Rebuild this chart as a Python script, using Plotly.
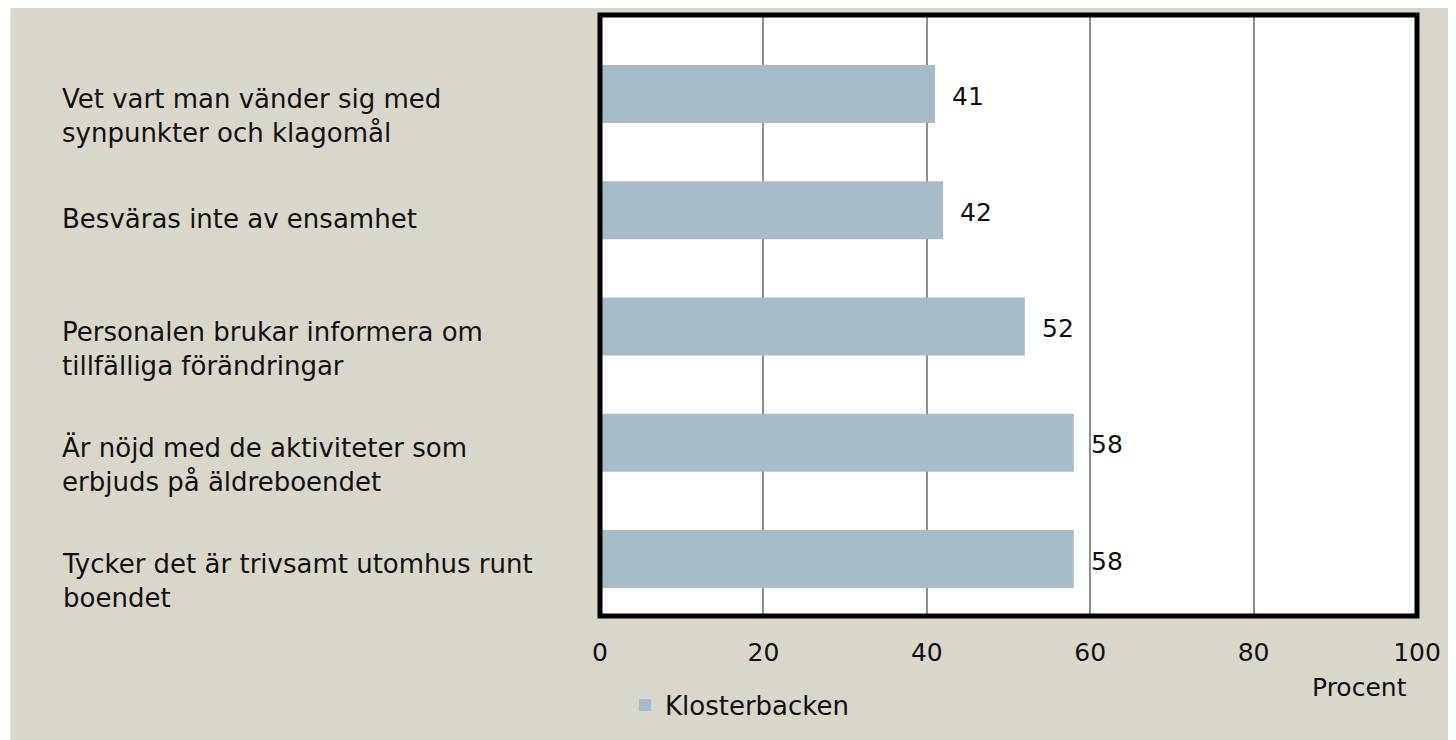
import plotly.graph_objects as go

# ---- data ----
categories = [
    "Vet vart man vänder sig med<br>synpunkter och klagomål",
    "Besväras inte av ensamhet",
    "Personalen brukar informera om<br>tillfälliga förändringar",
    "Är nöjd med de aktiviteter som<br>erbjuds på äldreboendet",
    "Tycker det är trivsamt utomhus runt<br>boendet",
]
values = [41, 42, 52, 58, 58]
series_name = "Klosterbacken"
x_ticks = [0, 20, 40, 60, 80, 100]
x_title = "Procent"

# ---- style ----
BEIGE = "#D9D7CB"
BAR = "#A7BCC6"
FONT = "DejaVu Sans"
TXT = "#111111"
OFF = 8  # page offset of the figure in the browser
W, H = 1456, 740
# plot area in screen pixels: x 600..1417.5, y 15..616
ML = 600 - OFF
MT = 15 - OFF
MR = W - (1417.5 - OFF)
MB = H - (616 - OFF)
PW = W - ML - MR
PH = H - MT - MB


def px_to_paper_x(px):
    return (px - OFF - ML) / PW


def px_to_paper_y(py):
    return (H - MB - (py - OFF)) / PH


fig = go.Figure()
fig.add_trace(go.Bar(
    x=values, y=categories, orientation="h", name=series_name,
    marker=dict(color=BAR, line=dict(width=0)),
    hoverinfo="x+y", showlegend=True,
))

annotations = []
for cat, v in zip(categories, values):
    annotations.append(dict(
        x=v, y=cat, xref="x", yref="y", text=str(v), showarrow=False,
        xanchor="left", yanchor="middle", xshift=15, yshift=-2,
        font=dict(family=FONT, size=25, color=TXT),
    ))
    nlines = cat.count("<br>") + 1
    annotations.append(dict(
        x=px_to_paper_x(60), y=cat, xref="paper", yref="y", text=cat,
        showarrow=False, xanchor="left", yanchor="middle", align="left",
        yshift=-9 if nlines == 1 else -22,
        font=dict(family=FONT, size=26, color=TXT),
    ))
annotations.append(dict(
    x=px_to_paper_x(1409), y=px_to_paper_y(688), xref="paper", yref="paper",
    text=x_title, showarrow=False, xanchor="right", yanchor="middle",
    font=dict(family=FONT, size=25, color=TXT),
))

shapes = [
    # thin white strip on the left of the beige area
    dict(type="rect", xref="paper", yref="paper", x0=px_to_paper_x(-20),
         x1=px_to_paper_x(10), y0=-1, y1=1.2, fillcolor="white",
         line=dict(width=0), layer="below"),
    # plot-area frame
    dict(type="rect", xref="paper", yref="paper", x0=0, x1=1, y0=0, y1=1,
         line=dict(color="black", width=5), fillcolor="rgba(0,0,0,0)",
         layer="above"),
]

fig.update_layout(
    width=W, height=H,
    margin=dict(l=ML, r=MR, t=MT, b=MB, pad=0),
    paper_bgcolor=BEIGE, plot_bgcolor="white",
    font=dict(family=FONT, size=25, color=TXT),
    bargap=0.5,
    xaxis=dict(
        range=[0, 100], tickvals=x_ticks, ticktext=[str(t) for t in x_ticks],
        showgrid=True, gridcolor="#8F8F8F", gridwidth=1.5,
        zeroline=False, showline=False, ticks="", ticklabelstandoff=19,
        tickfont=dict(family=FONT, size=25, color=TXT), fixedrange=True,
    ),
    yaxis=dict(
        range=[4.49, -0.68], showticklabels=False, showgrid=False,
        zeroline=False, showline=False, ticks="", fixedrange=True,
    ),
    legend=dict(
        orientation="h", x=px_to_paper_x(625), y=px_to_paper_y(705),
        xanchor="left", yanchor="middle", bgcolor="rgba(0,0,0,0)",
        font=dict(family=FONT, size=26, color=TXT), itemwidth=30,
    ),
    annotations=annotations,
    shapes=shapes,
)

fig.write_html("out.html")
